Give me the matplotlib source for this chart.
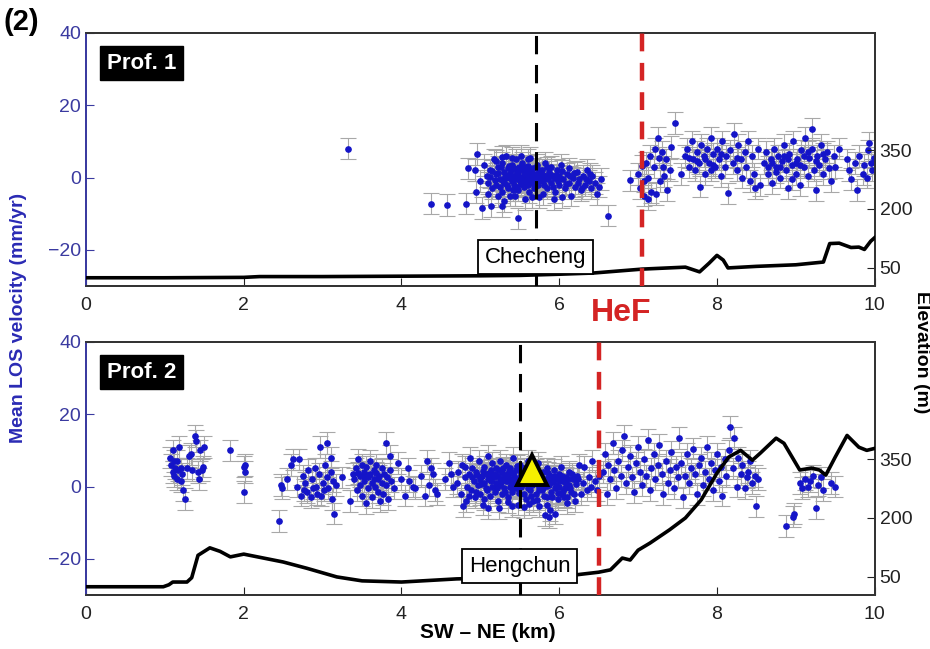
import numpy as np
import matplotlib
matplotlib.use("Agg")
import matplotlib.pyplot as plt

plt.rcParams['font.family'] = ['Liberation Sans', 'DejaVu Sans']

# ---- data ----
# profile 1 : (distance km, mean LOS velocity mm/yr)
prof1_pts = [
    (3.32, 8), (4.38, -7.2), (4.58, -7.5), (4.82, -7.2), (4.84, 2.5), (4.96, 6.6),
    (5.02, -8.5), (5.13, -8), (5.27, -8), (5.48, -11.3), (6.62, -10.5),
    (5.05, 3.5), (5.08, 0.5), (5.1, -1.5), (5.12, 2), (5.15, -3), (5.17, 5), (5.2, 1),
    (5.2, -2), (5.22, 3), (5.25, -0.5), (5.27, 4), (5.28, -4), (5.3, 1.5), (5.3, -1.5),
    (5.32, 6), (5.33, 0), (5.35, 2.5), (5.35, -3), (5.37, -5), (5.38, 1), (5.4, -1),
    (5.4, 3.5), (5.42, 0.5), (5.43, -2), (5.45, 5), (5.45, -0.5), (5.47, 1.5), (5.48, -3.5),
    (5.5, 2), (5.5, -1), (5.52, 0), (5.53, 4), (5.55, -2.5), (5.55, 1), (5.57, -6),
    (5.58, 3), (5.6, -0.5), (5.6, 1.5), (5.62, -4), (5.63, 5.5), (5.65, 0.5), (5.65, -1.5),
    (5.67, 2.5), (5.68, -3), (5.7, 1), (5.7, -0.5), (5.72, 3.5), (5.73, -2), (5.75, 0),
    (5.75, -5.5), (5.78, 2), (5.8, -1), (5.82, 4), (5.83, 0.5), (5.85, -3), (5.87, 1.5),
    (5.9, -1.5), (5.9, 3), (5.93, 0), (5.95, -4), (5.97, 2), (6.0, -2), (6.0, 0.5),
    (6.02, 3.5), (6.05, -0.5), (6.07, -3), (6.1, 1), (6.12, 2.5), (6.13, -1.5), (6.15, -5),
    (6.18, 0), (6.2, -2.5), (6.22, 1.5), (6.25, -0.5), (6.27, -3.5), (6.3, 0.5), (6.33, -2),
    (6.35, 2), (6.38, -1), (6.4, -3), (6.42, 0.5), (6.45, -1.5), (6.5, -2.5), (6.53, -0.5),
    (5.0, -1), (5.15, 1.8), (5.25, -2.5), (5.38, -0.2), (5.43, 2.5), (5.48, 0.3),
    (5.52, -1.8), (5.58, -0.8), (5.63, 1.8), (5.68, -0.2), (5.53, -0.8), (5.46, 1.2),
    (5.41, -0.8), (5.36, 0.8), (5.56, 2.2), (5.61, -2.2), (5.71, -1.2), (5.76, 1.2),
    (6.48, -4.5), (6.03, -5.5), (5.93, -6), (5.3, -6.5), (4.95, -4), (4.93, 2),
    (5.12, 0.2), (5.18, -0.8), (5.22, 1.2), (5.26, 2.8), (5.29, -1), (5.31, 0.3),
    (5.34, -2), (5.36, 3.2), (5.39, 2), (5.41, -3.5), (5.44, 0), (5.46, -2.5), (5.49, 3),
    (5.51, -0.2), (5.54, 2.8), (5.56, -1.2), (5.59, 0.6), (5.61, 3.2), (5.64, -0.8),
    (5.66, 1.2), (5.69, -2.5), (5.72, 0.3), (5.74, 2.2), (5.77, -0.8), (5.79, 0.8),
    (5.81, -2), (5.84, 2.8), (5.86, -0.3), (5.89, 0.8), (5.92, -2.5), (5.96, 0.8),
    (5.99, -1), (6.04, 1.8), (6.09, -1.8), (6.14, 0.3), (6.19, 1.2), (6.24, -1.5),
    (6.29, -2.8), (6.34, -0.5), (6.39, 1), (5.2, 4.5), (5.27, 5.8), (5.4, 5.5), (5.52, 6),
    (5.6, 5), (5.1, -4.5), (5.23, -5.2), (5.44, -5), (5.66, -5.5), (5.8, -4.5),
    (6.9, -0.8), (7.0, 1), (7.02, -3), (7.05, 3.3), (7.07, -1), (7.08, -5), (7.1, 4),
    (7.12, 0), (7.13, -6), (7.15, 6), (7.17, -4.1), (7.2, 3), (7.22, 8), (7.23, -4.5),
    (7.25, 11), (7.27, 5.5), (7.28, -1), (7.3, 7), (7.32, 3), (7.33, 0.5), (7.35, 5),
    (7.37, -3.5), (7.4, 2), (7.42, 8.5),
    (7.47, 15), (7.55, 1), (7.6, 6), (7.62, 8), (7.65, 3), (7.68, 10), (7.7, 5), (7.72, 2),
    (7.75, 7), (7.77, 4), (7.78, -2.5), (7.8, 9), (7.83, 6), (7.85, 1), (7.87, 8), (7.9, 4),
    (7.92, 11), (7.93, 2), (7.95, 6.5), (7.97, 3), (8.0, 8), (8.02, 5), (8.05, 0.5),
    (8.07, 10), (8.1, 3), (8.12, 6), (8.14, -4.4), (8.17, 7.5), (8.2, 4), (8.22, 12),
    (8.25, 2), (8.27, 9), (8.3, 5), (8.32, 0), (8.35, 7), (8.37, 3), (8.4, 10), (8.42, -1),
    (8.45, 6), (8.47, 1), (8.48, -3), (8.52, 8), (8.55, -2), (7.65, 5.5), (7.85, 5),
    (8.05, 6.5), (8.25, 5.5), (7.75, 4.5), (7.95, 3.5),
    (8.6, 4), (8.62, 7), (8.65, 1), (8.68, 5), (8.7, -1.5), (8.72, 8), (8.75, 3), (8.77, 6),
    (8.8, 0), (8.82, 4.5), (8.85, 9), (8.87, 2), (8.9, -3), (8.92, 6.5), (8.95, 3.5),
    (8.97, 10), (9.0, 1), (9.02, 5), (9.05, -2), (9.07, 7.5), (9.1, 3), (9.12, 11),
    (9.15, 0.5), (9.17, 5.5), (9.2, 8), (9.21, 13.5), (9.23, 2), (9.25, -3.5), (9.27, 6),
    (9.3, 3.5), (9.32, 9), (9.35, 1), (9.37, 5), (9.4, 7), (9.42, 2.5), (9.45, -1),
    (9.48, 6), (9.5, 3), (9.55, 8), (8.7, 4), (8.8, 3), (8.9, 5), (9.0, 4), (9.1, 6),
    (8.65, 3), (8.75, 1.5), (8.85, 6), (8.95, -0.5), (9.05, 3.5), (9.15, 7), (9.25, 4.5),
    (9.35, 6.5),
    (9.65, 5), (9.68, 2), (9.7, -0.5), (9.75, 4), (9.78, -3.5), (9.8, 6), (9.85, 1),
    (9.87, 3.5), (9.9, 0), (9.92, 7.5), (9.93, 9.5), (9.95, 4), (9.97, 2), (9.99, 5.5),
]

# profile 2 : (distance km, mean LOS velocity mm/yr)
prof2_pts = [
    (1.07, 8), (1.08, 6), (1.1, 4), (1.1, 10), (1.12, 3), (1.13, 5), (1.15, 7), (1.15, 2),
    (1.17, 4.5), (1.18, 11), (1.2, 5), (1.2, 1.5), (1.22, 3.5), (1.23, -1), (1.25, -3.5),
    (1.28, 5), (1.3, 8.5), (1.33, 9), (1.35, 4.5), (1.38, 14), (1.4, 12.5), (1.42, 4),
    (1.43, 2), (1.45, 10), (1.47, 4.5), (1.48, 5.5), (1.5, 11), (1.12, 7), (1.82, 10),
    (2.0, 5.5), (2.02, 6), (2.02, 4), (2.0, -1.5),
    (2.45, -9.6), (2.47, 0.5), (2.48, -0.5), (2.55, 2), (2.6, 6), (2.62, 7.5), (2.68, 0),
    (2.7, 7.5), (2.72, -2.5), (2.75, 3), (2.78, 1), (2.8, -1.5), (2.82, 4.5), (2.85, -3),
    (2.87, 2), (2.9, 5), (2.92, 0), (2.93, -2), (2.95, 3.5), (2.97, 11), (3.0, 1),
    (3.02, -1), (3.03, 6), (3.05, 12), (3.05, 2.5), (3.07, -0.5), (3.1, 4), (3.1, 8),
    (3.12, -3.5), (3.13, 1.5), (3.15, -7.5), (3.17, 0.5), (2.88, -0.5), (2.98, -2.5),
    (2.76, -1), (3.25, 2.5), (3.35, -4), (3.38, 3.5),
    (3.4, 2), (3.42, 5), (3.43, -1), (3.45, 7.5), (3.47, 3), (3.48, 0.5), (3.5, 6),
    (3.5, -2.5), (3.52, 4), (3.53, 1.5), (3.55, -4.5), (3.55, 5.5), (3.57, 2.5), (3.58, -0.5),
    (3.6, 3.5), (3.6, 7), (3.62, 1), (3.63, -3), (3.65, 4.5), (3.67, 0), (3.68, 6), (3.7, 2),
    (3.7, -1.5), (3.72, 3), (3.73, -4), (3.75, 5), (3.75, 1), (3.77, -2), (3.78, 3.5),
    (3.8, 12), (3.8, 0.5), (3.82, 2.5), (3.83, -3.5), (3.85, 4.5), (3.85, 8.5), (3.87, 1.5),
    (3.9, -0.5), (3.45, 3.8), (3.65, 2.2), (3.58, 3.2), (3.52, 2.8), (3.68, 3.8),
    (3.95, 6.5), (4.0, 2), (4.05, -2.5), (4.08, 5), (4.1, 1.5), (4.15, 0), (4.17, -0.5),
    (4.25, 3), (4.3, -2.5), (4.32, 7), (4.35, 0.5), (4.37, 5), (4.4, 3.5), (4.42, -1),
    (4.45, -2), (4.55, 2), (4.6, 6.5), (4.63, 3.5), (4.65, 0),
    (4.7, 1), (4.72, 4), (4.75, -2), (4.77, 6), (4.8, 2.5), (4.82, -4), (4.83, 0),
    (4.85, 3.5), (4.87, 8), (4.88, -1), (4.9, 5), (4.92, 1.5), (4.93, -3), (4.95, 4),
    (4.97, 0.5), (4.98, 7), (5.0, 2), (5.0, -2), (5.02, 3), (5.03, -5), (5.05, 5.5),
    (5.05, 1), (5.07, -0.5), (5.08, 3.5), (5.1, 8.5), (5.1, 2), (5.12, -2.5), (5.13, 4.5),
    (5.15, 0), (5.15, 6.5), (5.17, 2.5), (5.18, -1.5), (5.2, 5), (5.2, 1), (5.22, -4),
    (5.23, 3), (5.25, 7), (5.25, 0.5), (5.27, -2), (5.28, 4), (5.3, 2), (5.3, -0.5),
    (5.32, 6), (5.33, 1.5), (5.35, -3), (5.35, 3.5), (5.37, 0), (5.38, 5), (5.4, 2),
    (5.4, -1.5), (5.42, 8), (5.43, 3), (5.45, -0.5), (5.45, 4.5), (5.47, 1), (5.48, -5),
    (5.5, 2.5), (5.5, 6), (5.52, 0), (5.53, 3.5), (5.55, -2), (5.55, 5), (5.57, 1.5),
    (5.58, -3.5), (5.6, 3), (5.6, 7), (5.62, 0.5), (5.63, -1), (5.65, 4), (5.65, 2),
    (5.67, -4), (5.68, 5.5), (5.7, 1), (5.7, -2), (5.72, 3), (5.73, 6.5), (5.75, 0),
    (5.75, -5.5), (5.77, 2.5), (5.78, -1), (5.8, 4), (5.8, 1), (5.82, -8), (5.83, 2),
    (5.85, -3), (5.85, 5), (5.87, 0.5), (5.88, -6.5), (5.9, 3), (5.9, -1.5), (5.92, 1.5),
    (5.93, 4.5), (5.95, -0.5), (5.97, 2), (5.98, -3.5), (6.0, 3.5), (6.0, 0), (6.02, 5.5),
    (6.03, -2), (6.05, 1.5), (6.07, -0.5), (6.08, 2.5), (6.1, -3), (6.12, 4), (6.13, 0.5),
    (6.15, -1.5), (6.18, 2), (6.2, -4), (6.22, 3), (6.25, 6), (6.28, -2), (6.3, 1),
    (6.32, 5.5), (6.35, -1), (6.38, 2.5), (6.4, 0), (5.25, 2), (5.35, 1.5), (5.45, 2.2),
    (5.55, 1.8), (5.65, 2.8), (5.75, 1.5), (5.85, 2.2), (5.3, 3.2), (5.4, 0.8), (5.5, 1.2),
    (5.6, -0.3), (5.7, 3.8), (5.8, -0.5), (5.95, 3), (6.05, -1.2), (5.15, 3.2), (5.05, -3.5),
    (4.95, -1.5), (5.1, -6), (4.78, -5.5), (5.24, -6), (5.4, -5.5),
    (4.9, 2.5), (4.96, 3.2), (5.01, 0.8), (5.04, 4.2), (5.09, -1), (5.11, 3.8), (5.14, 1.5),
    (5.19, 3.5), (5.21, -0.5), (5.24, 4.5), (5.26, 1.2), (5.29, 5.2), (5.31, -1.5),
    (5.34, 2.6), (5.36, 4.2), (5.39, -0.2), (5.41, 3.8), (5.44, 1.2), (5.46, 5.8),
    (5.49, -1.8), (5.51, 3.8), (5.54, 0.6), (5.56, 2.8), (5.59, 4.8), (5.61, 1.2),
    (5.64, -2.5), (5.66, 0.5), (5.69, 2.5), (5.71, 4.6), (5.74, -1), (5.76, 3.2), (5.79, 2),
    (5.81, -2.5), (5.84, 0.2), (5.86, 3.8), (5.89, 1.2), (5.91, -3), (5.94, 2.6), (5.96, 0.4),
    (5.99, -1.8), (6.01, 1.6), (6.04, 3), (6.06, -2.8), (6.09, 0.8), (6.11, 2), (6.14, -0.5),
    (6.16, 3.5), (6.19, -2), (6.21, 0.6), (6.24, 2.2), (5.72, -3.6), (5.62, -4.8),
    (5.84, -5), (5.95, -7.5), (5.87, -8.5), (5.35, -4.2), (5.55, -5.8), (6.1, -4.5),
    (4.85, -2.5), (4.8, 5.5),
    (6.42, 7), (6.45, 1.5), (6.48, -1), (6.5, 3), (6.55, 4), (6.58, 9), (6.6, -2),
    (6.62, 6), (6.65, 2), (6.68, 12), (6.7, 4.5), (6.72, -0.5), (6.75, 7), (6.78, 3),
    (6.8, 10), (6.82, 14), (6.85, 1), (6.87, 5.5), (6.9, 8.5), (6.92, 2.5), (6.95, -1.5),
    (6.97, 6.5), (7.0, 11), (7.02, 4), (7.05, 0.5), (7.07, 7.5), (7.1, 3), (7.12, 13),
    (7.15, -1), (7.17, 5), (7.2, 9), (7.22, 2), (7.25, 6), (7.27, 11.5), (7.3, 3.5),
    (7.32, -2), (7.35, 7), (7.38, 1), (7.4, 4.5), (7.42, 9.5), (7.45, -0.5), (7.48, 5.5),
    (7.5, 2.5), (7.52, 13.5), (7.55, 6.5), (7.57, -3), (7.6, 3), (7.62, 9), (7.65, 1),
    (7.67, 5), (7.7, 10.5), (7.72, 3.5), (7.75, -2), (7.77, 6), (7.8, 8), (7.82, 0.5),
    (7.85, 4), (7.87, 11), (7.9, 2), (7.92, 6.5), (7.95, -1), (7.97, 4.5), (8.0, 9),
    (8.02, 1.5), (8.05, 5.5), (8.07, -2.5), (8.1, 7.5), (8.12, 3), (8.15, 10), (8.17, 16.5),
    (8.2, 5), (8.22, 13.5), (8.25, 0), (8.27, 8), (8.3, 3.5), (8.32, 6), (8.35, -0.5),
    (8.38, 2.5), (8.4, 4), (8.42, 7), (8.45, 1), (8.48, 3), (8.52, 2), (8.5, -5.5),
    (8.87, -11), (8.96, -8.3), (8.98, -7.5),
    (9.05, 1), (9.08, -0.5), (9.12, 2), (9.15, 0), (9.18, 1.5), (9.22, 3), (9.25, -6),
    (9.28, 0.5), (9.32, 2.5), (9.35, -1), (9.45, 1), (9.5, 0),
]
los_err = 3.0  # mm/yr, typical error bar half-length

# elevation profiles (km, m)
prof1_km = [0, 1, 2, 2.2, 3, 4, 5, 5.5, 6, 6.43, 7.05, 7.6, 7.78, 7.9, 8.0, 8.08, 8.14, 8.5,
            9.0, 9.2, 9.35, 9.43, 9.55, 9.7, 9.8, 9.87, 9.95, 10]
prof1_elev = [25, 25, 26, 28, 28, 29, 30, 31, 34, 37, 47, 52, 40, 62, 82, 70, 50, 54,
              58, 62, 65, 112, 113, 102, 103, 97, 118, 127]
prof2_km = [0, 0.98, 1.05, 1.1, 1.28, 1.34, 1.42, 1.57, 1.7, 1.83, 2.0, 2.2, 2.5, 2.8,
            3.18, 3.5, 4.0, 4.7, 5.3, 6.0, 6.2, 6.5, 6.65, 6.8, 6.9, 7.0, 7.15, 7.4, 7.6,
            7.8, 8.0, 8.15, 8.3, 8.45, 8.55, 8.75, 8.85, 9.05, 9.2, 9.3, 9.38, 9.5, 9.65,
            9.8, 9.9, 10]
prof2_elev = [25, 25, 30, 37, 37, 48, 105, 124, 115, 101, 108, 100, 88, 72,
              50, 40, 37, 45, 48, 55, 55, 62, 68, 98, 93, 118, 136, 170, 200,
              246, 314, 355, 372, 347, 365, 403, 390, 322, 327, 322, 309, 355, 410,
              380, 372, 377]

town_km = [5.7, 5.5]
town_names = ['Checheng', 'Hengchun']
fault_km = [7.05, 6.5]
gps_km, gps_vel = 5.65, 4.5

# ---- figure ----
fig = plt.figure(figsize=(9.3, 6.49), dpi=100)
blue_txt = '#3a3aa0'
dot_col = '#1414c8'
red = '#d42424'

pos = [[0.0925, 0.5593, 0.848, 0.39], [0.0925, 0.0832, 0.848, 0.39]]
pts_all = [prof1_pts, prof2_pts]
elev_km = [prof1_km, prof2_km]
elev_m = [prof1_elev, prof2_elev]
prof_labels = ['Prof. 1', 'Prof. 2']

for i in range(2):
    ax = fig.add_axes(pos[i])
    pts = np.array(pts_all[i])
    ax.errorbar(pts[:, 0], pts[:, 1], yerr=los_err, fmt='none', ecolor='#a8a8a8',
                elinewidth=0.8, capsize=5.5, capthick=0.8, zorder=2)
    ax.plot(pts[:, 0], pts[:, 1], 'o', color=dot_col, ms=3.8, mec=dot_col, zorder=3)
    ax.set_xlim(0, 10)
    ax.set_ylim(-30, 40)
    ax.set_yticks([-20, 0, 20, 40])
    ax.set_xticks([0, 2, 4, 6, 8, 10])
    ax.tick_params(direction='in', length=6, labelsize=14, colors='#222222')
    ax.tick_params(axis='y', colors=blue_txt, labelcolor=blue_txt)
    ax.tick_params(axis='x', pad=8)
    for s in ax.spines.values():
        s.set_linewidth(1.3)
        s.set_color('#333333')
    ax.spines['left'].set_color(blue_txt)

    ax2 = ax.twinx()
    ax2.plot(elev_km[i], elev_m[i], color='black', lw=2.6, zorder=3)
    ax2.set_ylim(4, 648)
    ax2.set_yticks([50, 200, 350])
    ax2.tick_params(direction='in', length=6, labelsize=14, colors='#222222')
    for s in ax2.spines.values():
        s.set_linewidth(1.3)
        s.set_color('#333333')
    ax2.spines['left'].set_color(blue_txt)

    ax2.axvline(town_km[i], color='black', lw=2.2, dashes=(6, 3.5), zorder=4)
    ax2.axvline(fault_km[i], color=red, lw=3.2, dashes=(4, 2.6), zorder=4)
    ax2.text(town_km[i], -22, town_names[i], transform=ax.transData, fontsize=16,
             ha='center', va='center', zorder=6,
             bbox=dict(boxstyle='square,pad=0.3', fc='white', ec='black', lw=1.3))
    ax2.text(0.07, 0.88, prof_labels[i], transform=ax.transAxes, fontsize=16,
             fontweight='bold', color='white', ha='center', va='center', zorder=6,
             bbox=dict(boxstyle='square,pad=0.3', fc='black', ec='black'))
    if i == 1:
        ax2.plot([gps_km], [gps_vel], '^', transform=ax.transData, ms=21, mfc='#f5f000',
                 mec='black', mew=2.8, zorder=7, clip_on=False)
        ax2.set_xlim(0, 10)

fig.text(0.004, 0.966, '(2)', fontsize=21, fontweight='bold', va='center')
fig.text(0.668, 0.517, 'HeF', fontsize=23, fontweight='bold', color=red,
         ha='center', va='center')
fig.text(0.02, 0.51, 'Mean LOS velocity (mm/yr)', rotation=90, fontsize=14,
         fontweight='bold', color='#2a2ab4', ha='center', va='center')
fig.text(0.991, 0.457, 'Elevation (m)', rotation=270, fontsize=14, fontweight='bold',
         ha='center', va='center')
fig.text(0.525, 0.025, 'SW \u2013 NE (km)', fontsize=15, fontweight='bold',
         ha='center', va='center')

fig.savefig('out.png', dpi=100)
